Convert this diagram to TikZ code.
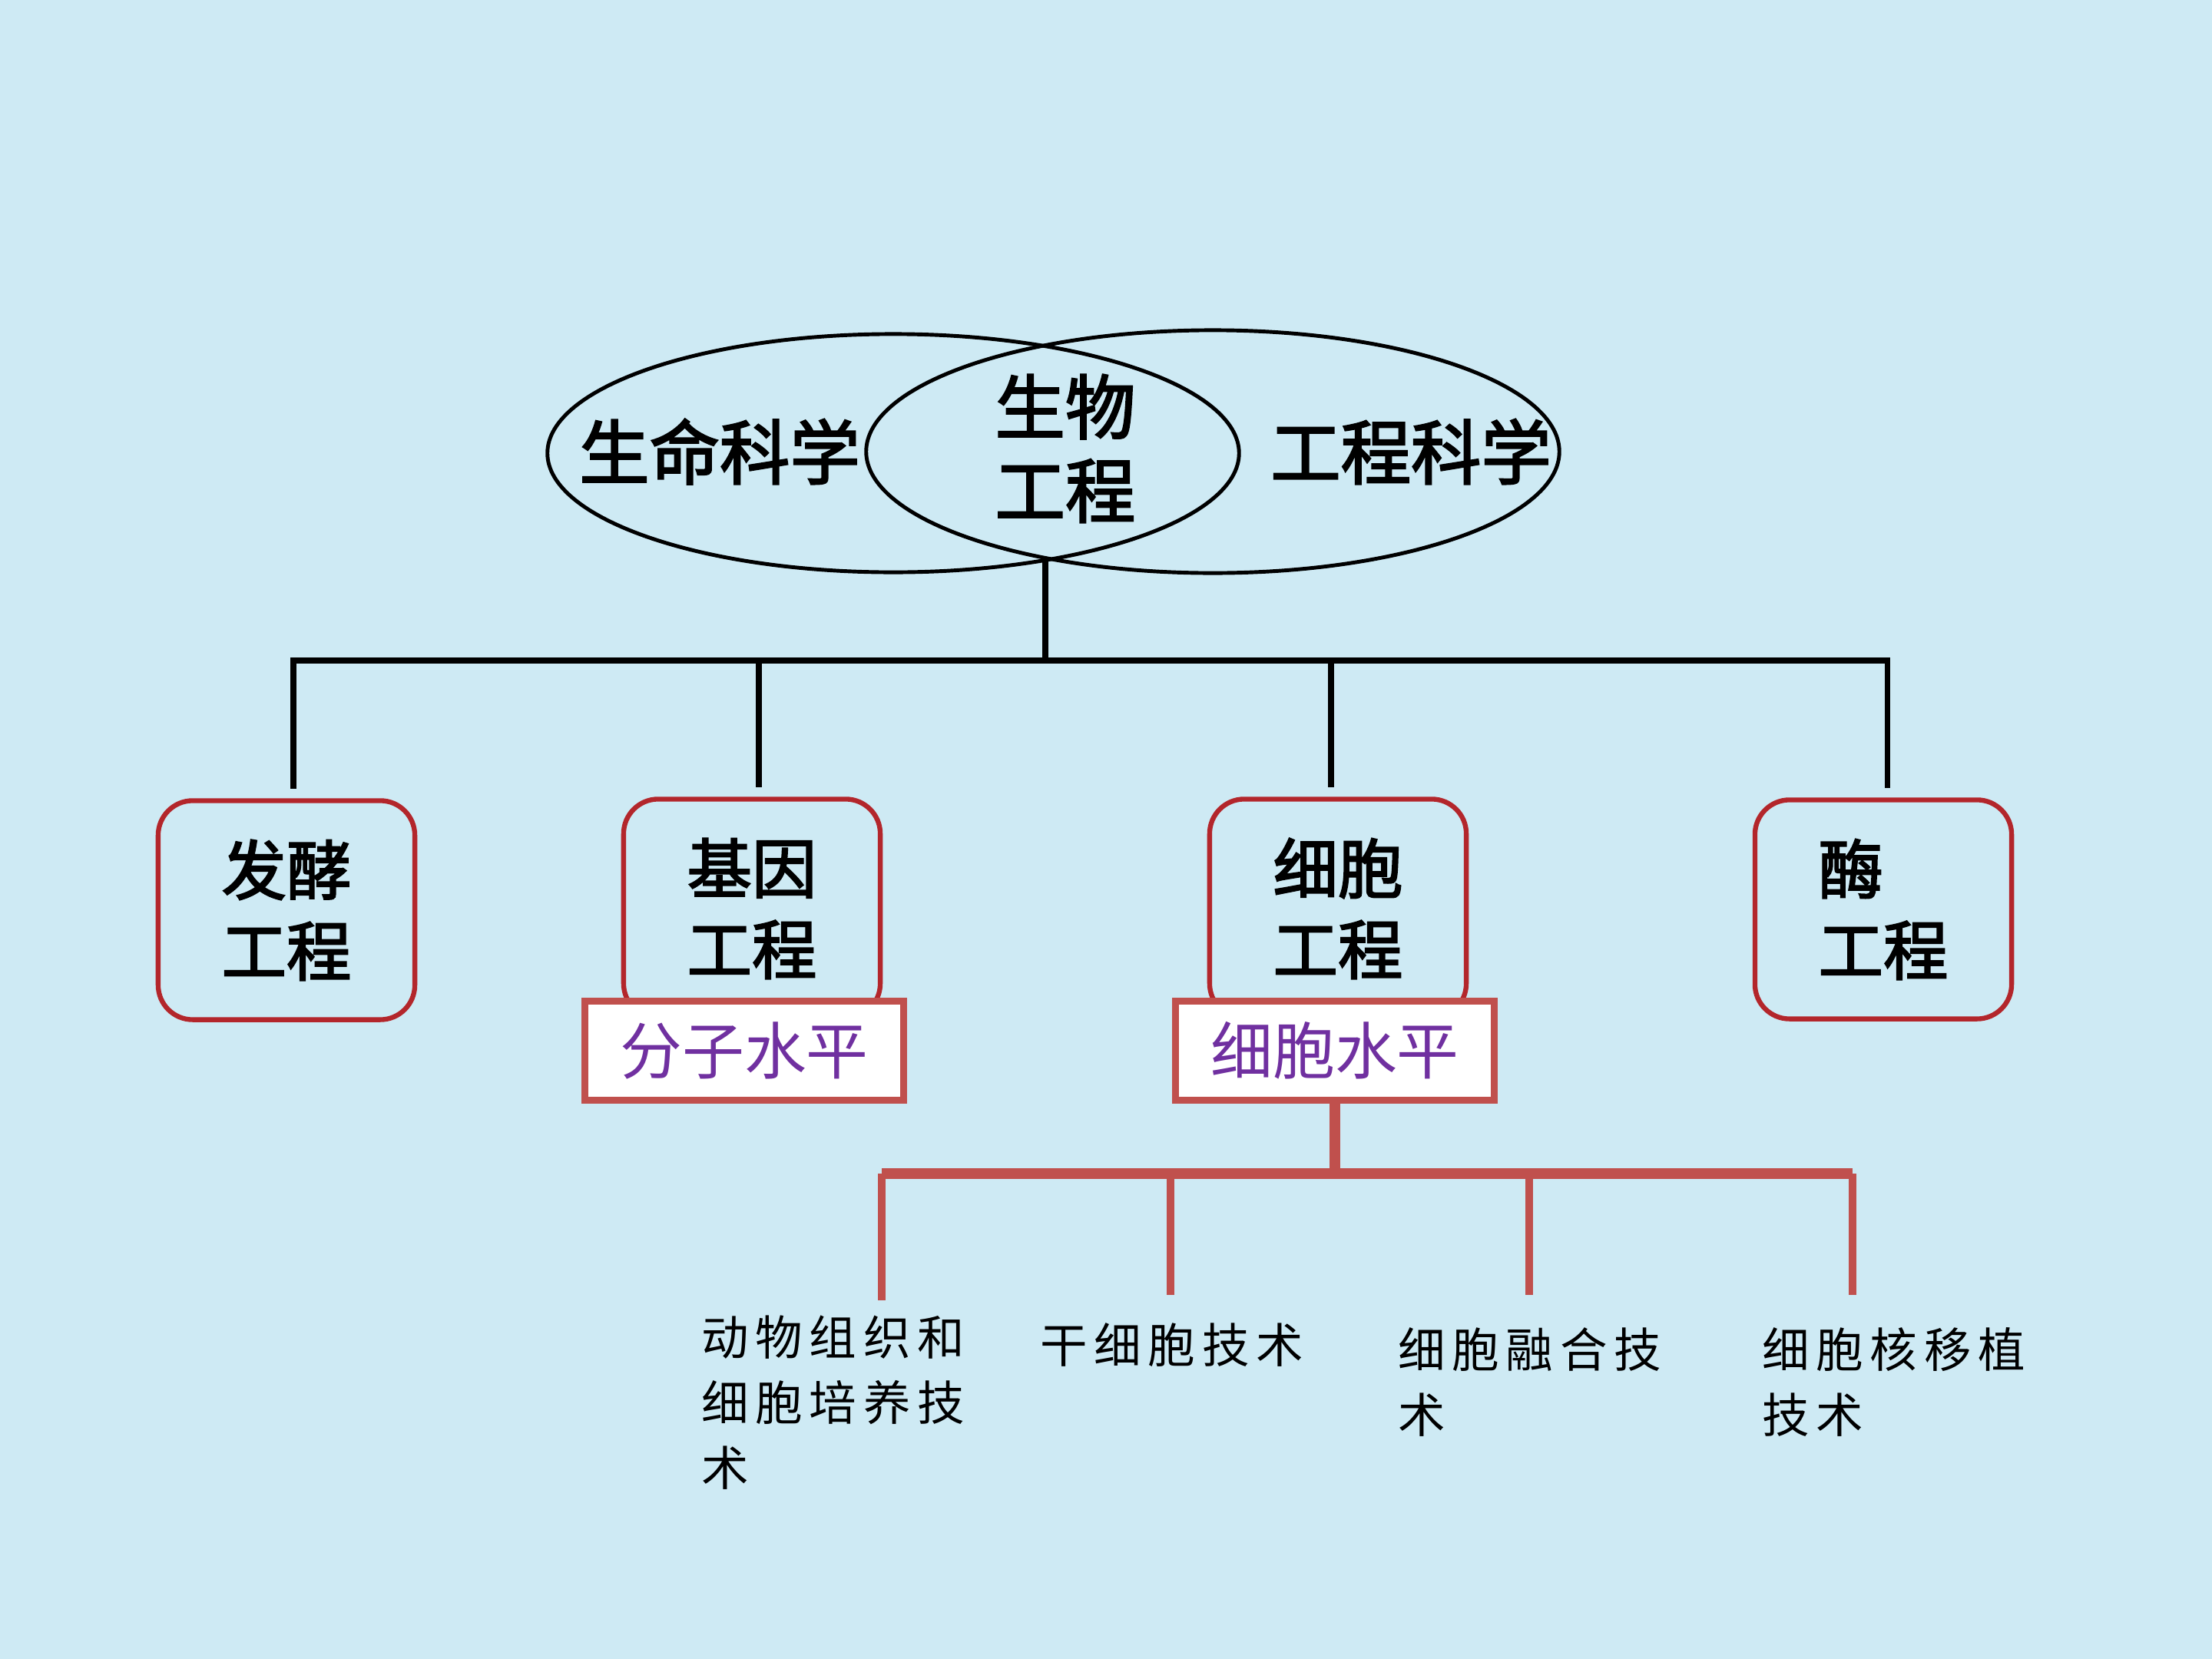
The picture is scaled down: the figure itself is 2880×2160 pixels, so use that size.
\documentclass[tikz,border=0pt]{standalone}
\usepackage{fontspec}
\usepackage{tikz}
\usetikzlibrary{shapes.geometric}
\newfontfamily\cjk[AutoFakeBold=2.5]{Noto Sans CJK SC}
\newfontfamily\cjkwide[LetterSpace=14]{Noto Sans CJK SC}
\definecolor{BGcolor}{RGB}{206,234,244}
\definecolor{BOXcolor}{HTML}{B3262B}
\definecolor{LVLcolor}{HTML}{C0504D}
\definecolor{TXTcolor}{HTML}{7030A0}
\tikzset{
  field/.style={ellipse, draw=black, line width=1.4pt},
  bigtxt/.style={font=\cjk\bfseries\fontsize{26}{31}\selectfont, align=center},
  engbox/.style={draw=BOXcolor, line width=1.8pt, rounded corners=0.45cm,
    minimum width=3.34cm, minimum height=2.85cm, align=center,
    font=\cjk\bfseries\fontsize{24}{30}\selectfont},
  lvlbox/.style={draw=LVLcolor, fill=white, line width=2.6pt,
    minimum width=4.14cm, minimum height=1.29cm, text=TXTcolor,
    font=\cjk\fontsize{23}{28}\selectfont},
  tech/.style={anchor=north west, align=left, inner sep=0pt,
    font=\cjkwide\fontsize{17.5}{24.2}\selectfont},
  tie/.style={black, line width=2pt},
  redtie/.style={LVLcolor, line width=4pt},
  reddrop/.style={LVLcolor, line width=2.6pt}
}

\begin{document}
\begin{tikzpicture}[x=0.01cm, y=-0.01cm]
  \fill[BGcolor] (0,0) rectangle (2880,2160);

  % the two overlapping fields
  \node[field, minimum width=9cm, minimum height=3.1cm] (lifeF) at (1163,590) {};
  \node[field, minimum width=9.02cm, minimum height=3.16cm] (engF) at (1579,588) {};
  \node[bigtxt] (life) at (937,588) {生命科学};
  \node[bigtxt] (bio) at (1387,584) {生物\\工程};
  \node[bigtxt] (engsci) at (1837,588) {工程科学};

  % four branches
  \node[engbox] (ferm) at (373,1185) {发酵\\工程};
  \node[engbox] (gene) at (979,1183) {基因\\工程};
  \node[engbox] (cell) at (1742,1183) {细胞\\工程};
  \node[engbox, align=left] (enzy) at (2452,1184) {酶\\工程};

  \node[lvlbox] (molLvl) at (969,1368) {分子水平};
  \node[lvlbox] (cellLvl) at (1738,1368) {细胞水平};

  \coordinate (lens) at (1361,725);
  \coordinate (hub) at (1361,860);
  \draw[tie] (lens) -- (hub);
  \foreach \b/\dx in {ferm/0.09,gene/0.09,cell/-0.09,enzy/0.05}
    \draw[tie] (hub) -| ([xshift=\dx cm, yshift=0.12cm]\b.north);

  % cell level techniques
  \coordinate (rhub) at (1738,1528);
  \foreach \nm/\px/\py in {d1/1148/1693, d2/1524/1686, d3/1991/1686, d4/2412/1686}
    \coordinate (\nm) at (\px,\py);
  \draw[redtie] (cellLvl.south) -- (cellLvl.south |- rhub);
  \draw[redtie] (d1 |- rhub) -- (d4 |- rhub);
  \foreach \nm in {d1,d2,d3,d4}
    \draw[reddrop] (\nm |- rhub) -- (\nm);

  \node[tech] (t1) at (913,1712) {动物组织和\\细胞培养技\\术};
  \node[tech] (t2) at (1354,1722) {干细胞技术};
  \node[tech] (t3) at (1820,1728) {细胞融合技\\术};
  \node[tech] (t4) at (2294,1728) {细胞核移植\\技术};
\end{tikzpicture}
\end{document}
